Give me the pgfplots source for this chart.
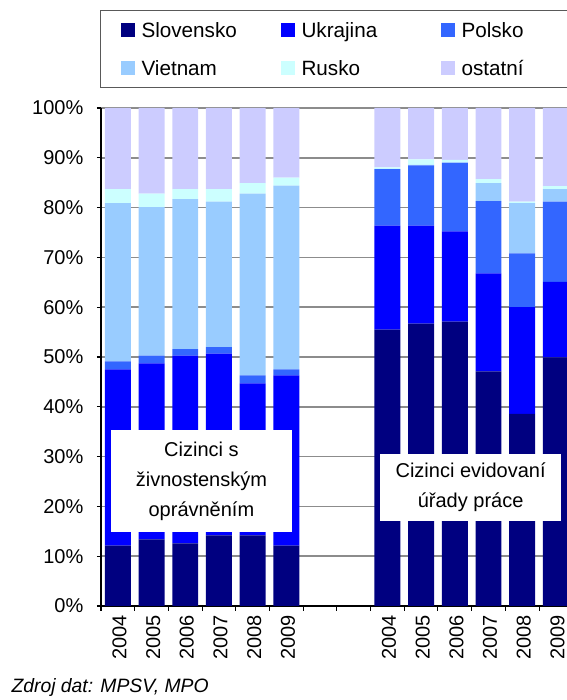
\documentclass[border=0pt]{standalone}
\usepackage{fontspec}
\setmainfont{Liberation Sans}
\usepackage{pgfplots}
\usepackage{pgfplotstable}
\pgfplotsset{compat=1.18}

\definecolor{cSlo}{HTML}{000080}
\definecolor{cUkr}{HTML}{0000FF}
\definecolor{cPol}{HTML}{3366FF}
\definecolor{cVie}{HTML}{99CCFF}
\definecolor{cRus}{HTML}{CCFFFF}
\definecolor{cOst}{HTML}{CCCCFF}
\definecolor{gridgray}{HTML}{8C8C8C}

% podily v %, 0-5 zivnostnici 2004-2009, 8-13 urady prace 2004-2009
\pgfplotstableread{
x   slo   ukr   pol   vie   rus   ost
0   12.1  35.4  1.6   31.8  2.8   16.3
1   13.4  35.3  1.6   29.8  2.7   17.2
2   12.6  37.7  1.3   30.1  2.0   16.3
3   14.2  36.5  1.3   29.2  2.5   16.3
4   14.2  30.5  1.6   36.5  2.1   15.1
5   12.1  34.2  1.2   36.9  1.6   14.0
8   55.5  20.9  11.3  0.1   0.3   11.9
9   56.7  19.7  12.1  0.1   1.1   10.3
10  57.1  18.1  13.8  0.1   0.5   10.4
11  47.1  19.7  14.5  3.6   0.8   14.3
12  38.6  21.4  10.8  10.1  0.3   18.8
13  49.9  15.2  16.1  2.5   0.6   15.7
}\podily

\begin{document}
\fontsize{15}{18}\selectfont
\begin{tikzpicture}
\begin{axis}[
    at={(75.75pt,70.5pt)}, anchor=south west,
    scale only axis, width=349.5pt, height=373.5pt,
    ybar stacked, bar width=0.77,
    xmin=-0.5, xmax=13.33, ymin=0, ymax=100,
    enlargelimits=false,
    axis x line*=bottom, axis y line*=left,
    axis line style={black, line width=1pt},
    tick align=outside,
    major tick length=3pt, minor tick length=3.5pt,
    xtick={0,1,2,3,4,5,8,9,10,11,12,13},
    xticklabels={2004,2005,2006,2007,2008,2009,2004,2005,2006,2007,2008,2009},
    major x tick style={draw=none},
    minor xtick={-0.5,0.5,...,13.5},
    minor x tick style={black, line width=0.8pt},
    ytick={0,10,...,100},
    yticklabels={0\%,10\%,20\%,30\%,40\%,50\%,60\%,70\%,80\%,90\%,100\%},
    ytick style={black, line width=0.8pt},
    ymajorgrids,
    major grid style={gridgray, line width=1.2pt},
    /pgf/number format/assume math mode=true,
    tick label style={font=\fontsize{15}{18}\selectfont},
    xticklabel style={rotate=90, anchor=east, xshift=1.2pt, yshift=-1.2pt},
    yticklabel style={anchor=east, xshift=-5pt},
    legend columns=3,
    legend cell align=left,
    legend image code/.code={\fill[#1] (0pt,-5.25pt) rectangle (10.5pt,5.25pt);},
    legend style={
        at={(rel axis cs:-0.0021,1.197)}, anchor=north west,
        draw=black!65, line width=0.75pt, fill=white,
        inner xsep=15pt, inner ysep=9pt,
        row sep=18pt,
        nodes={inner sep=0pt, text height=11pt, text depth=0pt,
               font=\fontsize{15.5}{18}\selectfont},
        /tikz/every odd column/.append style={column sep=5.25pt},
        /tikz/every even column/.append style={column sep=0pt},
    },
]
\addplot[fill=cSlo, draw=none] table[x=x, y=slo] {\podily};
\addlegendentry{\makebox[104.25pt][l]{Slovensko}}
\addplot[fill=cUkr, draw=none] table[x=x, y=ukr] {\podily};
\addlegendentry{\makebox[104.25pt][l]{Ukrajina}}
\addplot[fill=cPol, draw=none] table[x=x, y=pol] {\podily};
\addlegendentry{\makebox[110pt][l]{Polsko}}
\addplot[fill=cVie, draw=none] table[x=x, y=vie] {\podily};
\addlegendentry{\makebox[104.25pt][l]{Vietnam}}
\addplot[fill=cRus, draw=none] table[x=x, y=rus] {\podily};
\addlegendentry{\makebox[104.25pt][l]{Rusko}}
\addplot[fill=cOst, draw=none] table[x=x, y=ost] {\podily};
\addlegendentry{\makebox[110pt][l]{ostatní}}

\coordinate (boxA) at (axis cs:2.48,25.1);
\coordinate (boxB) at (axis cs:10.47,23.8);
\end{axis}
\node[fill=white, inner sep=0pt, minimum width=135.75pt, minimum height=76.5pt,
      align=center, font=\fontsize{15}{22.5}\selectfont]
    at (boxA) {Cizinci s\\živnostenským\\oprávněním};
\node[fill=white, inner sep=0pt, minimum width=135.75pt, minimum height=50.25pt,
      align=center, font=\fontsize{15}{22.5}\selectfont]
    at (boxB) {Cizinci evidovaní\\úřady práce};
\node[anchor=base west, inner sep=0pt, font=\itshape\fontsize{14.5}{17}\selectfont]
    at (8.5pt,5.5pt) {Zdroj dat: MPSV, MPO};
\pgfresetboundingbox
\useasboundingbox (0pt,0pt) rectangle (425.25pt,525pt);
\end{tikzpicture}
\end{document}
